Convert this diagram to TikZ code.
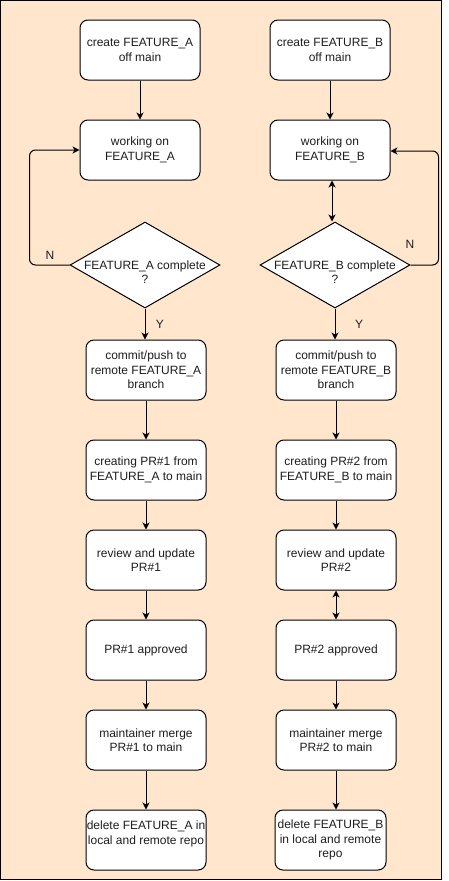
\documentclass[tikz,border=0pt]{standalone}
\usepackage{fontspec}
\setmainfont{Liberation Sans}
\usetikzlibrary{arrows.meta,shapes.geometric,calc}
\definecolor{peach}{RGB}{255,230,204}
\definecolor{txtc}{RGB}{30,30,30}
\begin{document}
\begin{tikzpicture}[x=1pt,y=-1pt,
  every node/.style={font=\fontsize{12}{14.4}\selectfont, text=txtc},
  box/.style={draw=black, fill=white, line width=1pt, rounded corners=8pt,
    minimum width=120pt, minimum height=60pt, inner sep=0pt, align=center},
  dia/.style={draw=black, fill=white, line width=1pt, shape=diamond,
    minimum width=150pt, minimum height=86pt, inner sep=0pt},
  txt/.style={inner sep=0pt, align=center},
  conn/.style={draw=black, line width=1pt, -{Stealth[length=7pt,width=7pt,inset=2pt]}},
  dconn/.style={draw=black, line width=1pt, {Stealth[length=7pt,width=7pt,inset=2pt]}-{Stealth[length=7pt,width=7pt,inset=2pt]}},
  lbl/.style={inner sep=0pt}
]
\useasboundingbox (0,0) rectangle (449,881);
\draw[fill=peach, draw=black, line width=1pt] (0.5,0.5) rectangle (441,879);

% left column
\node[box] (cA) at (140,50) {create FEATURE\_A\\off main};
\node[box] (wA) at (140,150) {working on\\FEATURE\_A};
\node[dia] (dA) at (145,265) {};
\node[txt] (tA) at (145,272) {FEATURE\_A complete\\?};
\node[box] (pA) at (146,370) {commit/push to\\remote FEATURE\_A\\branch};
\node[box] (rA) at (146,470) {creating PR\#1 from\\FEATURE\_A to main};
\node[box] (uA) at (146,560) {review and update\\PR\#1};
\node[box] (aA) at (146,650) {PR\#1 approved};
\node[box] (mA) at (146,740) {maintainer merge\\PR\#1 to main};
\node[box] (xA) at (146,840) {};
\node[txt] (xtA) at (146,834) {delete FEATURE\_A in\\local and remote repo};

% right column
\node[box] (cB) at (330,50) {create FEATURE\_B\\off main};
\node[box] (wB) at (330,150) {working on\\FEATURE\_B};
\node[dia] (dB) at (335,265) {};
\node[txt] (tB) at (335,272) {FEATURE\_B complete\\?};
\node[box] (pB) at (336,370) {commit/push to\\remote FEATURE\_B\\branch};
\node[box] (rB) at (336,470) {creating PR\#2 from\\FEATURE\_B to main};
\node[box] (uB) at (336,560) {review and update\\PR\#2};
\node[box] (aB) at (336,650) {PR\#2 approved};
\node[box] (mB) at (336,740) {maintainer merge\\PR\#2 to main};
\node[box, minimum width=111pt] (xB) at (330.5,840) {delete FEATURE\_B\\in local and remote\\repo};

% left connectors
\draw[conn] (cA) -- (wA);
\draw[conn] (dA.south) -- (dA.south |- pA.north);
\draw[conn] (pA) -- (rA);
\draw[conn] (rA) -- (uA);
\draw[conn] (uA) -- (aA);
\draw[conn] (aA) -- (mA);
\draw[conn] (mA) -- (xA);
\draw[conn, rounded corners=6pt] (dA.west) -- ++(-40,0) |- (wA.west);
\node[lbl] (nA) at (50,255) {N};
\node[lbl] (yA) at (160,324) {Y};

% right connectors
\draw[conn] (cB) -- (wB);
\draw[dconn] ($(wB.south)+(2,0)$) -- ($(dB.north)+(-3,0)$);
\draw[conn] (dB.south) -- (dB.south |- pB.north);
\draw[conn] (pB) -- (rB);
\draw[conn] (rB) -- (uB);
\draw[dconn] (uB) -- (aB);
\draw[conn] (aB) -- (mB);
\draw[conn] (mB.south) -- (mB.south |- xB.north);
\coordinate (wBr) at ($(wB.east)+(0,1)$);
\draw[conn, rounded corners=6pt] (dB.east) -- ++(28,0) |- (wBr);
\node[lbl] (nB) at (410,244) {N};
\node[lbl] (yB) at (359,324) {Y};
\end{tikzpicture}
\end{document}
